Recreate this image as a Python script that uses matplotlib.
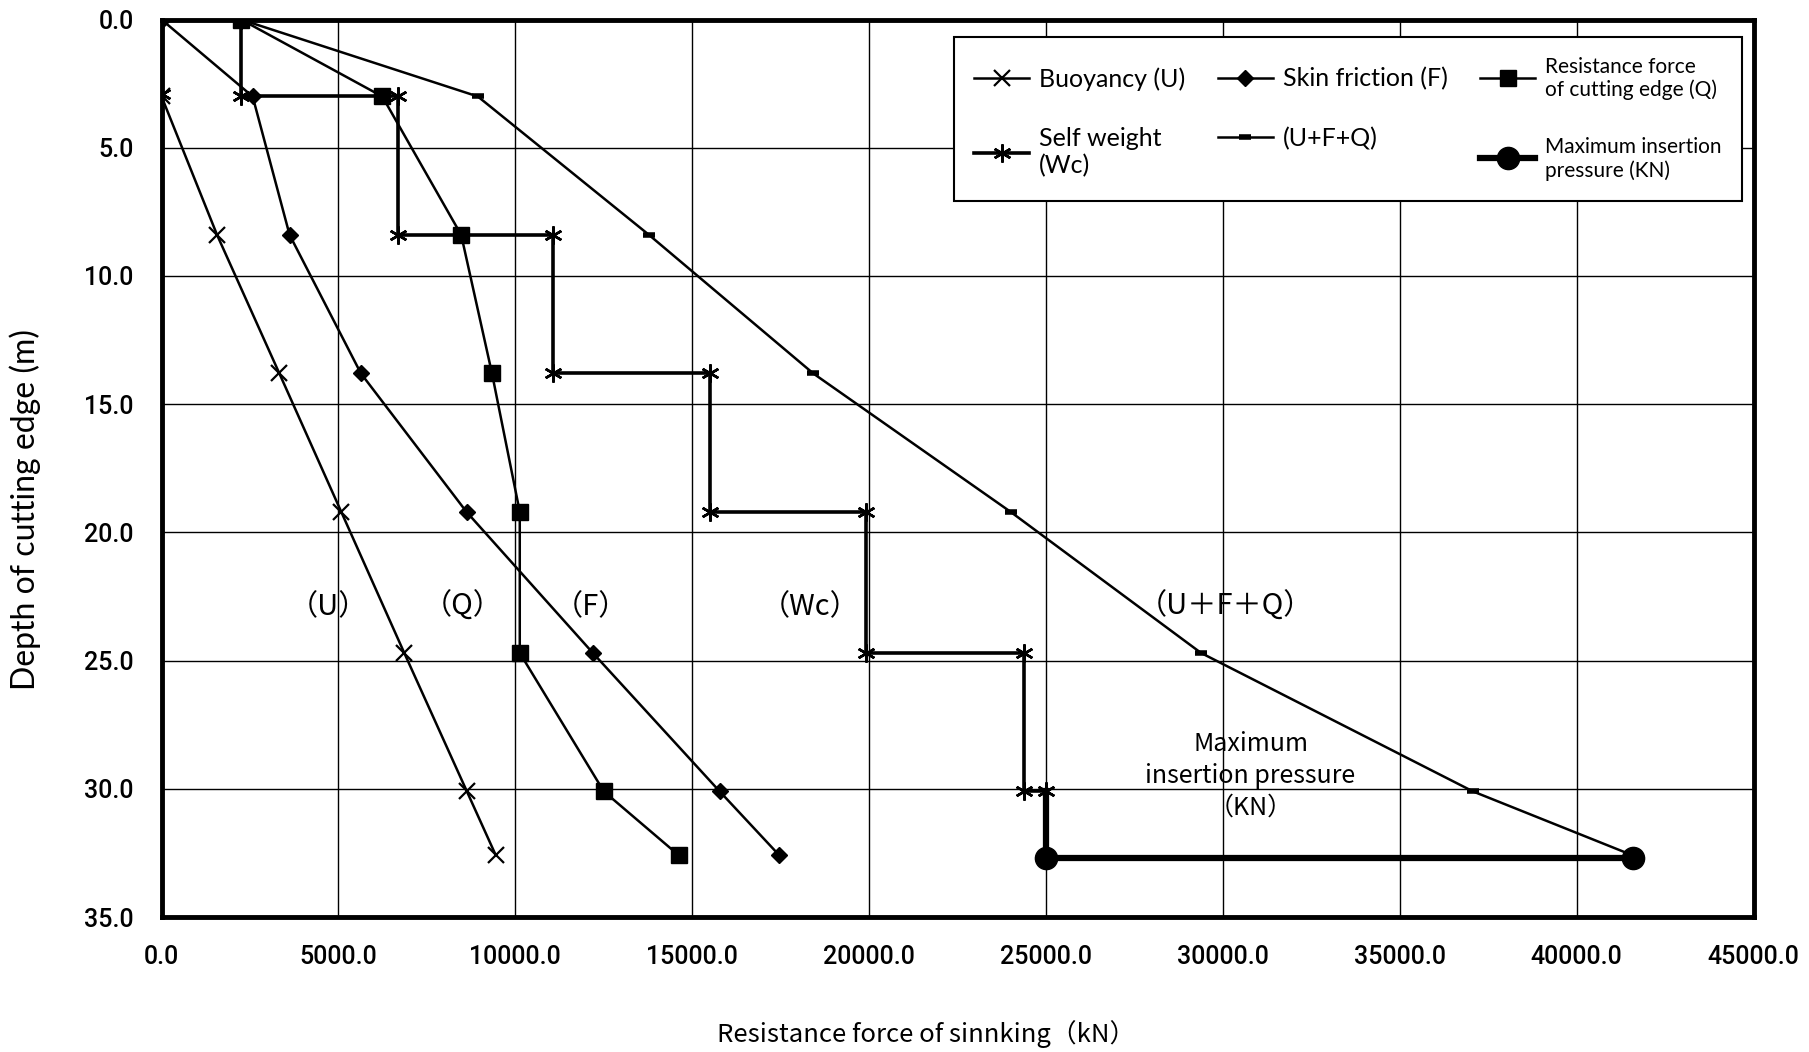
import numpy as np
import matplotlib
matplotlib.use("Agg")
import matplotlib.pyplot as plt
from matplotlib.lines import Line2D

# Depth of cutting edge (m) at each construction stage
depth = [0.0, 3.0, 8.4, 13.8, 19.2, 24.7, 30.1, 32.6]
depth_u = [3.0, 8.4, 13.8, 19.2, 24.7, 30.1, 32.6]

# Resistance components (kN)
buoyancy_u = [0, 1570, 3330, 5080, 6860, 8630, 9450]
skin_friction_f = [0, 2575, 3620, 5635, 8620, 12190, 15775, 17465]
edge_resistance_q = [2250, 6240, 8470, 9340, 10125, 10125, 12500, 14625]
total_ufq = [2250, 8940, 13780, 18420, 24000, 29380, 37065, 41590]

# Self weight of the caisson, stepwise with each lift (a lone point first)
self_weight_wc = [0, np.nan, 2250, 2250, 6680, 6680, 11070, 11070, 15500, 15500,
                  19920, 19920, 24380, 24380, 25000]
depth_wc = [2.9, np.nan, 0.0, 3.0, 3.0, 8.4, 8.4, 13.8, 13.8, 19.2,
            19.2, 24.7, 24.7, 30.1, 30.1]

# Maximum insertion pressure
max_press = [25000, 25000, 41590]
depth_max = [30.1, 32.7, 32.7]

x_ticks = [0, 5000, 10000, 15000, 20000, 25000, 30000, 35000, 40000, 45000]
y_ticks = [0, 5, 10, 15, 20, 25, 30, 35]

tick_font = "Roboto"
legend_font = "Lato"
cjk = ["Noto Sans CJK JP", "DejaVu Sans"]

fig = plt.figure(figsize=(18.09, 10.52), dpi=100)
ax = fig.add_axes([0.0893, 0.1283, 0.8801, 0.8531])

ax.set_xlim(0, 45000)
ax.set_ylim(35, 0)
ax.set_xticks(x_ticks)
ax.set_yticks(y_ticks)
ax.set_xticklabels([f"{v:.1f}" for v in x_ticks], fontname=tick_font, fontsize=18, fontweight=500)
ax.set_yticklabels([f"{v:.1f}" for v in y_ticks], fontname=tick_font, fontsize=18, fontweight=500)
ax.tick_params(axis="y", length=0, pad=20)
ax.tick_params(axis="x", length=0, pad=20)
ax.grid(True, color="black", linewidth=1.0)
ax.set_axisbelow(True)
for sp in ax.spines.values():
    sp.set_linewidth(3.5)
    sp.set_color("black")

k = "black"
ax.plot(buoyancy_u, depth_u, color=k, lw=1.8, marker="x", ms=11, mew=1.6, zorder=3)
ax.plot(skin_friction_f, depth, color=k, lw=1.8, marker="D", ms=8, zorder=3)
ax.plot(edge_resistance_q, depth, color=k, lw=1.8, marker="s", ms=11, zorder=3)
ax.plot(self_weight_wc, depth_wc, color=k, lw=2.6, marker=(6, 2, 0), ms=13, mew=1.8, zorder=3)
ax.plot(total_ufq, depth, color=k, lw=1.8, marker="_", ms=9, mew=4, zorder=3)
ax.plot(max_press, depth_max, color=k, lw=4.5, marker="o", ms=16, markevery=[1, 2], zorder=4)

# Series names inside the plot
for label, xv, yv in [("（U）", 4728, 22.9), ("（Q）", 8510, 22.9), ("（F）", 12130, 22.9),
                      ("（Wc）", 18325, 22.9), ("（U＋F＋Q）", 30062, 22.9)]:
    ax.text(xv, yv, label, ha="center", va="center", fontsize=21, family=cjk)
ax.text(30780, 29.5, "Maximum\ninsertion pressure\n（KN）", ha="center", va="center",
        fontsize=18, family=cjk, linespacing=1.3)

ax.set_ylabel("Depth of cutting edge (m)", fontname=legend_font, fontsize=23)
ax.yaxis.set_label_coords(-0.0755, 0.454)
ax.set_xlabel("Resistance force of sinnking（kN）", family=cjk, fontsize=18.5)
ax.xaxis.set_label_coords(0.480, -0.115)

handles = [
    Line2D([], [], color=k, lw=1.8, marker="x", ms=11, mew=1.6),
    Line2D([], [], color=k, lw=2.6, marker=(6, 2, 0), ms=13, mew=1.8),
    Line2D([], [], color=k, lw=1.8, marker="D", ms=8),
    Line2D([], [], color=k, lw=1.8, marker="_", ms=9, mew=4),
    Line2D([], [], color=k, lw=1.8, marker="s", ms=11),
    Line2D([], [], color=k, lw=4.5, marker="o", ms=16),
]
labels = ["Buoyancy (U)", "Self weight\n(Wc)", "Skin friction (F)", "(U+F+Q)",
          "Resistance force\nof cutting edge (Q)", "Maximum insertion\npressure (KN)"]
leg = ax.legend(handles, labels, ncol=3, loc="upper left", bbox_to_anchor=(0.49, 0.995),
                prop={"family": legend_font, "size": 18}, frameon=True, fancybox=False,
                edgecolor="black", framealpha=1, handlelength=2.2, handletextpad=0.4,
                columnspacing=1.3, labelspacing=1.45, borderpad=0.8)
leg.get_frame().set_linewidth(1.5)
for t in leg.get_texts()[4:]:
    t.set_fontsize(15)

fig.savefig("out.png", dpi=100, facecolor="white")
